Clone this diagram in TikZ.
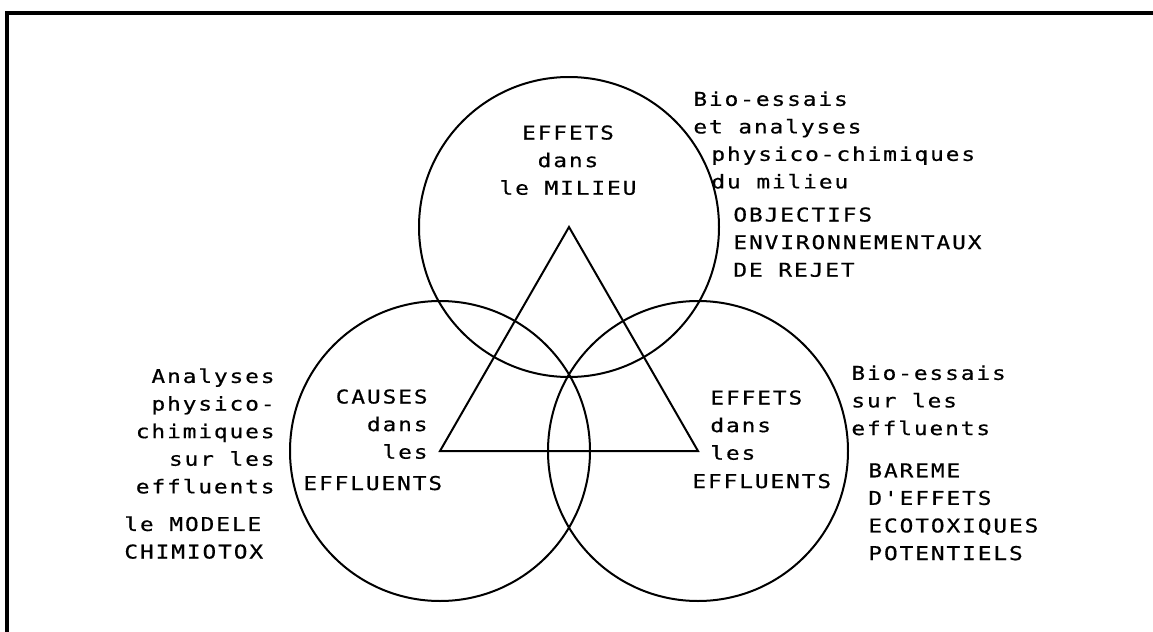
\documentclass[tikz,border=0pt]{standalone}
\usepackage{fontspec}
\setmonofont[FakeStretch=1.2, LetterSpace=10, FakeBold=0.6]{DejaVu Sans Mono}
\usepackage{tikz}
\usetikzlibrary{positioning}

\begin{document}
\begin{tikzpicture}[
				x=0.5pt, y=-0.5pt,
				lbl/.style={inner sep=0pt, font=\ttfamily\fontsize{9.5}{13.8}\selectfont},
				ring/.style={draw, line width=1pt},
				frame/.style={line width=1.75pt}
			]
			\useasboundingbox (0,0) rectangle (1153,632);

			% Frame (only top and left edges are visible)
			\draw[frame] (7,632) -- (7,13) -- (1153,13);

			% Circle centres, also the corners of the triangle
			\coordinate (milieu) at (569,227);
			\coordinate (causes) at (440,451);
			\coordinate (effets) at (698,451);

			\draw[ring] (milieu) circle[radius=75pt];
			\draw[ring] (causes) circle[radius=75pt];
			\draw[ring] (effets) circle[radius=75pt];
			\draw[ring] (milieu) -- (causes) -- (effets) -- cycle;

			% Inside the circles
			\node[lbl, align=center, anchor=north] (mil) at (568,125) {EFFETS\\dans\\le MILIEU};
			\node[lbl, align=right, anchor=north east] (cau) at (428,389) {CAUSES\\dans\\les};
			\node[lbl, anchor=base west] (efl) at (303,490) {EFFLUENTS};
			\node[lbl, align=left, anchor=north west] (eff) at (710,390) {EFFETS\\dans\\les};
			\node[lbl, anchor=base west] (efr) at (692,488) {EFFLUENTS};

			% Top right
			\node[lbl, align=left, anchor=north west] (biomil) at (693,91) {Bio-essais\\et analyses};
			\node[lbl, align=left, anchor=north west] (phymil) at (711,146) {physico-chimiques\\du milieu};
			\node[lbl, align=left, anchor=north west] (obj) at (733,207) {OBJECTIFS\\ENVIRONNEMENTAUX\\DE REJET};

			% Left
			\node[lbl, align=right, anchor=north east] (chim) at (275,368) {Analyses\\physico-\\chimiques\\sur les\\effluents};
			\node[lbl, align=left, anchor=north west] (mod) at (124,516) {le MODELE\\CHIMIOTOX};

			% Right
			\node[lbl, align=left, anchor=north west] (bioeff) at (851,365) {Bio-essais\\sur les\\effluents};
			\node[lbl, align=left, anchor=north west] (bar) at (868,463) {BAREME\\D'EFFETS\\ECOTOXIQUES\\POTENTIELS};

		\end{tikzpicture}
\end{document}
